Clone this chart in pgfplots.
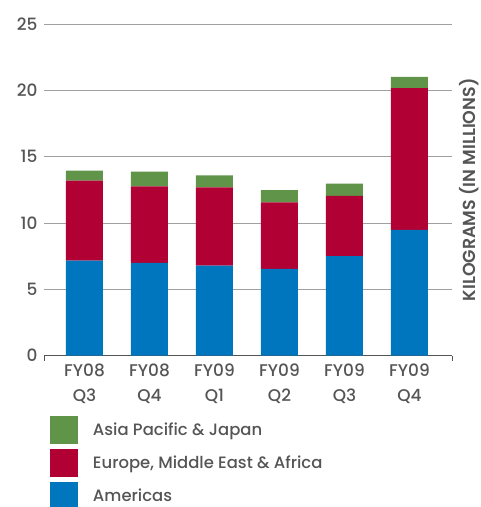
\documentclass[border=0pt]{standalone}
\usepackage{fontspec}
\setmainfont{Poppins}[UprightFont=* Medium, BoldFont=* SemiBold]
\usepackage{pgfplots}
\pgfplotsset{compat=1.18}
\definecolor{apj}{RGB}{96,148,72}
\definecolor{emea}{RGB}{176,0,52}
\definecolor{amer}{RGB}{0,118,190}
\definecolor{txt}{RGB}{85,85,85}
\definecolor{gridc}{RGB}{160,160,160}
\begin{document}
\begin{tikzpicture}
\useasboundingbox (-44bp,-151.3bp) rectangle (437bp,355.7bp);
\begin{axis}[
  at={(0,0)}, anchor=south west,
  scale only axis,
  width=408bp, height=331.7bp,
  ybar stacked, bar width=37bp,
  xmin=-0.623, xmax=5.654,
  ymin=0, ymax=25,
  ytick={0,5,10,15,20,25},
  xtick={0,1,2,3,4,5},
  xticklabels={FY08\\Q3,FY08\\Q4,FY09\\Q1,FY09\\Q2,FY09\\Q3,FY09\\Q4},
  xticklabel style={align=center, font=\fontsize{17}{24.5}\selectfont, text=txt, yshift=-5bp},
  yticklabel style={font=\fontsize{17}{19}\selectfont, text=txt, xshift=-3bp},
  /pgf/number format/assume math mode=true,
  axis x line=bottom, axis y line*=left,
  y axis line style={draw=none},
  x axis line style={draw=txt, line width=0.8pt, -},
  major tick length=0pt,
  extra x ticks={-0.623,5.654},
  extra x tick labels={},
  extra x tick style={grid=none, major tick length=5bp, tick align=outside, tick style={draw=txt, line width=0.8pt}},
  ymajorgrids, grid style={draw=gridc, line width=0.6pt},
  ylabel={KILOGRAMS (IN MILLIONS)},
  ylabel style={at={(axis description cs:1.043,0.5)}, anchor=center, font=\fontsize{17.5}{19}\selectfont\bfseries, text=txt},
  reverse legend,
  legend style={draw=none, fill=none, inner sep=0pt, outer sep=0pt,
    at={(axis description cs:0,0)}, anchor=north west, xshift=6bp, yshift=-60.5bp,
    row sep=5bp, font=\fontsize{16.5}{18}\selectfont, text=txt,
    cells={anchor=west, inner sep=0pt}},
  legend image code/.code={\fill[#1] (0bp,-14bp) rectangle (28bp,14bp); \path (41bp,0bp);},
]
\addplot[fill=amer, draw=none, mark=none] coordinates {(0,7.17) (1,7.00) (2,6.79) (3,6.54) (4,7.50) (5,9.49)};
\addplot[fill=emea, draw=none, mark=none] coordinates {(0,6.02) (1,5.76) (2,5.89) (3,5.02) (4,4.54) (5,10.68)};
\addplot[fill=apj, draw=none, mark=none] coordinates {(0,0.76) (1,1.12) (2,0.92) (3,0.91) (4,0.92) (5,0.85)};
\legend{Americas, {Europe, Middle East \& Africa}, Asia Pacific \& Japan}
\end{axis}
\end{tikzpicture}
\end{document}
